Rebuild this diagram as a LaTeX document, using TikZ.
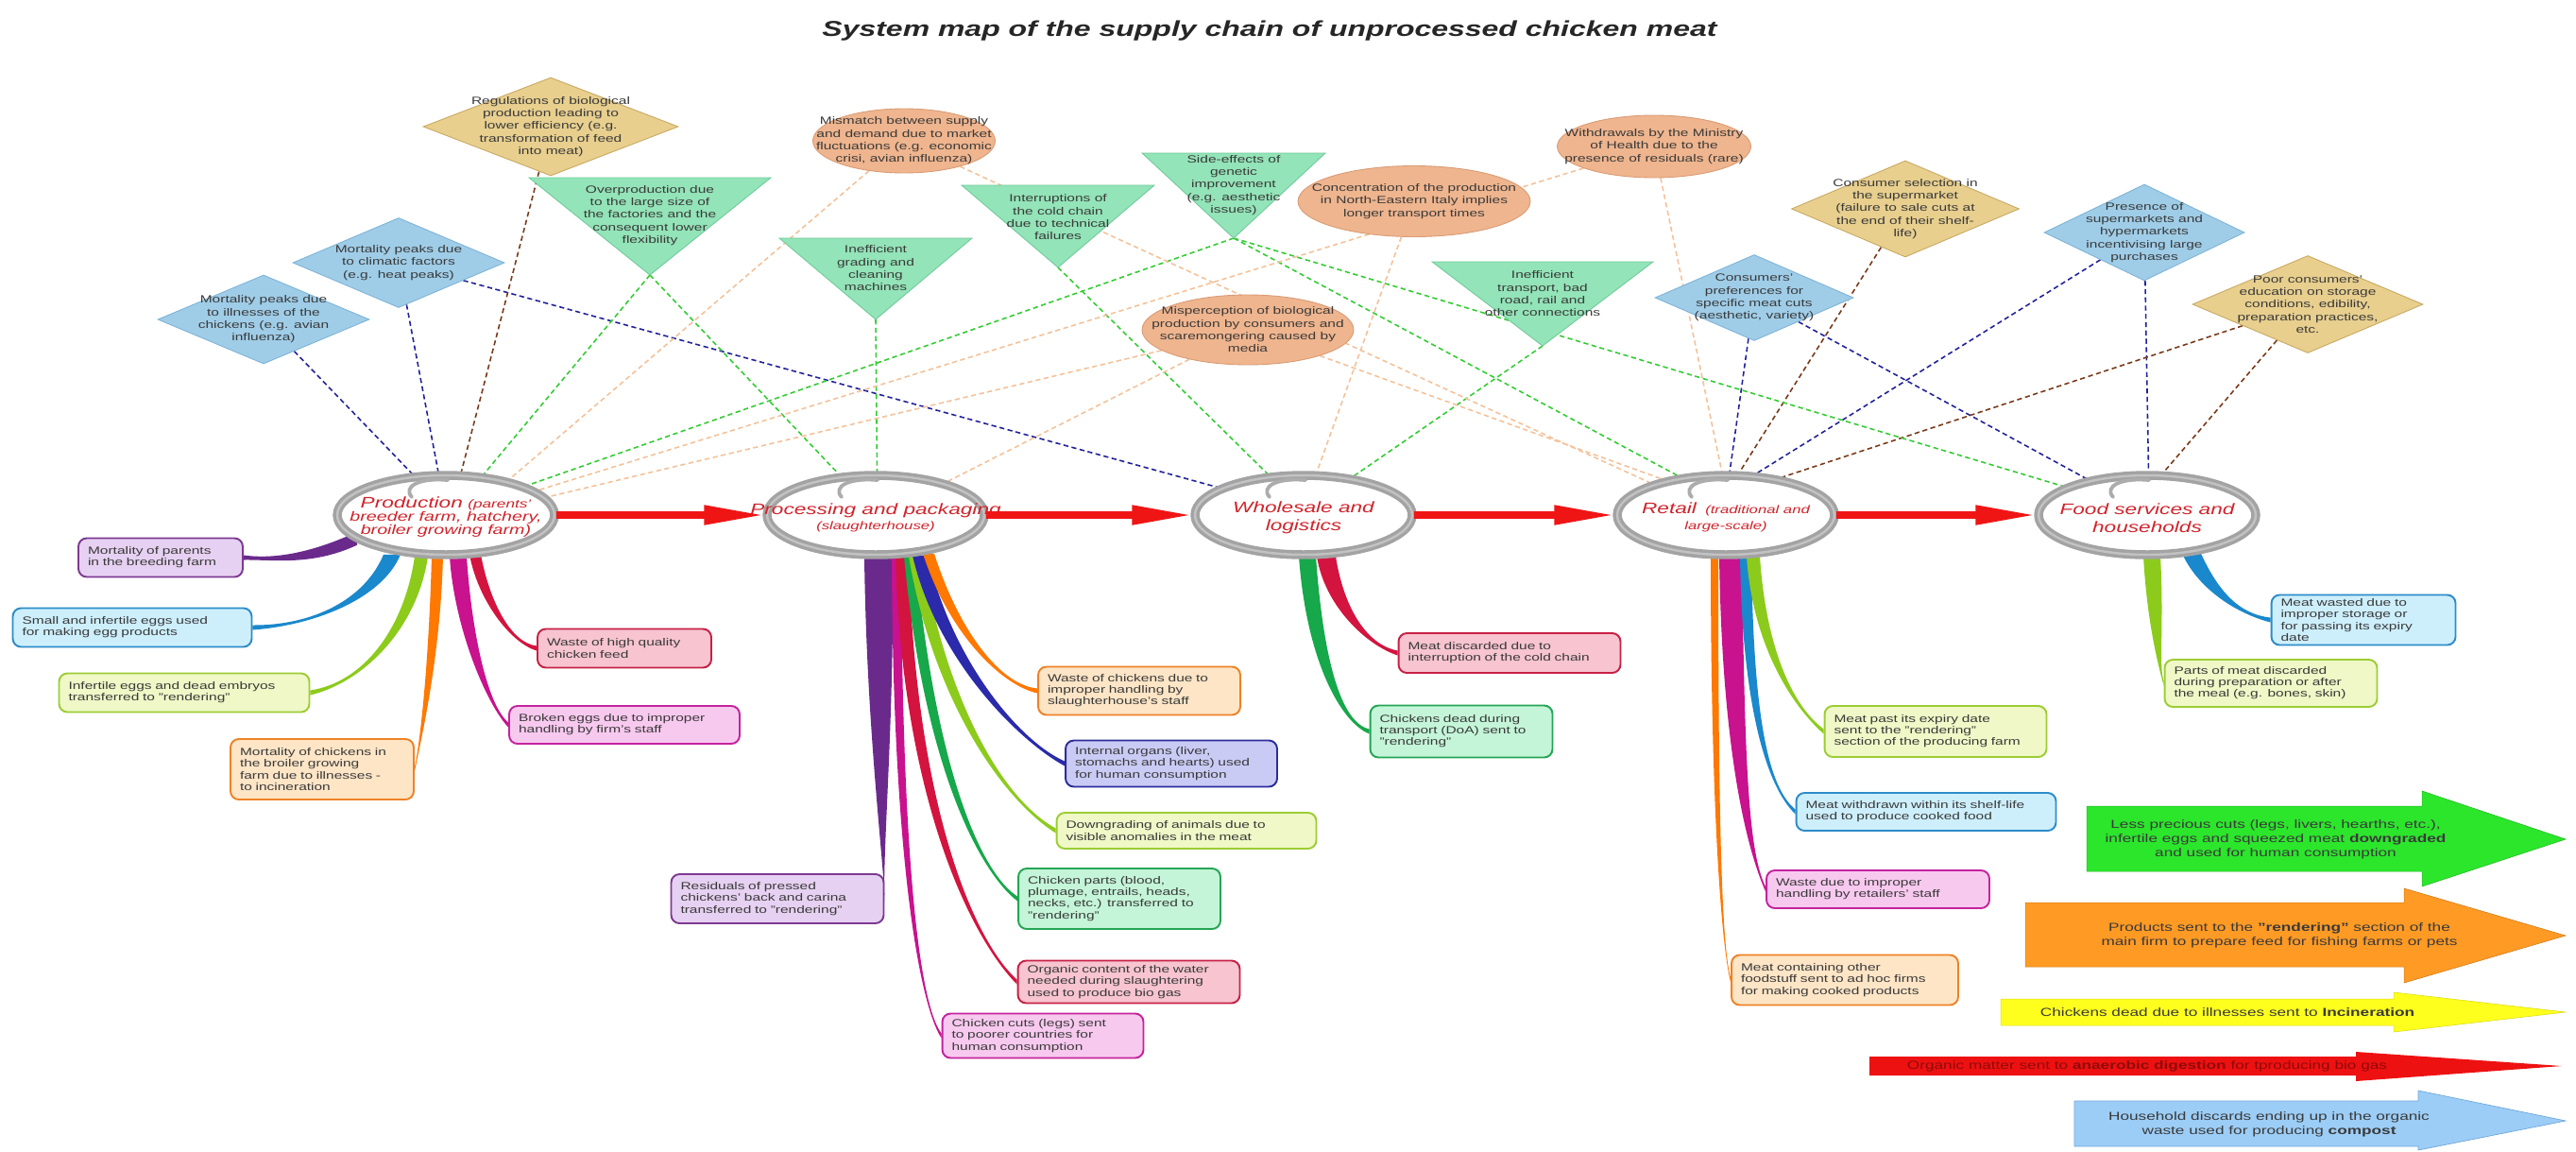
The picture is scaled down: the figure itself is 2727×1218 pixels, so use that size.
\documentclass[tikz,border=0pt]{standalone}
\usepackage{fontspec}
\setmainfont[FakeStretch=1.4]{Liberation Sans}
\usetikzlibrary{shapes.geometric,calc,arrows.meta}
\pgfdeclarelayer{background}
\pgfsetlayers{background,main}

% shapes on top
\definecolor{diaBlue}{HTML}{9FCDE8}
\definecolor{diaBlueD}{HTML}{7DB3D6}
\definecolor{diaTan}{HTML}{E8CF8E}
\definecolor{diaTanD}{HTML}{C8A860}
\definecolor{ellOrg}{HTML}{EFB58E}
\definecolor{ellOrgD}{HTML}{D99B74}
\definecolor{triGreen}{HTML}{93E4B8}
\definecolor{triGreenD}{HTML}{6FCB9A}
% dashed links
\definecolor{lnblue}{HTML}{22229A}
\definecolor{lnbrown}{HTML}{7A3A1A}
\definecolor{lngreen}{HTML}{33CC33}
\definecolor{lnpeach}{HTML}{F3C29A}
% chain
\definecolor{stageRed}{HTML}{D0242C}
\definecolor{flowRed}{HTML}{F01515}
\definecolor{txtgray}{HTML}{3A3A3A}
% loss boxes: fill, border, ribbon
\definecolor{purF}{HTML}{E7D1F2}\definecolor{purD}{HTML}{7D3A92}\definecolor{purR}{HTML}{6A2A8C}
\definecolor{cyaF}{HTML}{CDEFFC}\definecolor{cyaD}{HTML}{2D8CC8}\definecolor{cyaR}{HTML}{1A88CC}
\definecolor{limF}{HTML}{EFF8C6}\definecolor{limD}{HTML}{9CCD34}\definecolor{limR}{HTML}{8CCB1C}
\definecolor{oraF}{HTML}{FDE5C6}\definecolor{oraD}{HTML}{EE8226}\definecolor{oraR}{HTML}{FF7800}
\definecolor{magF}{HTML}{F8C9EF}\definecolor{magD}{HTML}{C4239E}\definecolor{magR}{HTML}{C8128E}
\definecolor{crmF}{HTML}{F7C4D0}\definecolor{crmD}{HTML}{C62045}\definecolor{crmR}{HTML}{D3143F}
\definecolor{indF}{HTML}{CACBF5}\definecolor{indD}{HTML}{2C2C9C}\definecolor{indR}{HTML}{2A2AAA}
\definecolor{grnF}{HTML}{C4F5D8}\definecolor{grnD}{HTML}{24A554}\definecolor{grnR}{HTML}{16A84A}
% legend
\definecolor{legGreen}{HTML}{2BE62B}
\definecolor{legOrange}{HTML}{FF9A24}
\definecolor{legYellow}{HTML}{FFFF1E}
\definecolor{legRed}{HTML}{EE1111}
\definecolor{legBlue}{HTML}{9CCDF6}
\definecolor{legBlueD}{HTML}{6FA8DB}

\tikzset{
  shapetext/.style={font=\fontsize{6.3}{7.6}\selectfont, text=txtgray, align=center, inner sep=0pt},
  bluedia/.style={diamond, draw=diaBlueD, fill=diaBlue, line width=0.5pt, inner sep=0pt},
  tandia/.style={diamond, draw=diaTanD, fill=diaTan, line width=0.5pt, inner sep=0pt},
  orgell/.style={ellipse, draw=ellOrgD, fill=ellOrg, line width=0.5pt, inner sep=0pt},
  gtri/.style={draw=triGreenD, fill=triGreen, line width=0.5pt},
  stage/.style={ellipse, fill=white, draw=gray!72, double=gray!48, double distance=1.4pt,
    line width=2pt, minimum width=4.6cm, minimum height=1.68cm, inner sep=0pt},
  stagetext/.style={font=\itshape, text=stageRed, align=center, inner sep=0pt},
  swirl/.style={draw=gray!65, line width=2.2pt, line cap=round},
  flow/.style={draw=flowRed, line width=4.5pt, -{Triangle[length=1.3cm,width=0.38cm]}},
  risk/.style={dash pattern=on 3pt off 2pt, line width=0.9pt},
  lossbox/.style={rectangle, rounded corners=5pt, line width=1.1pt, align=left,
    inner xsep=0.2cm, inner ysep=0pt, text=txtgray, font=\fontsize{6.3}{6.9}\selectfont},
  purbox/.style={lossbox, draw=purD, fill=purF},
  cyabox/.style={lossbox, draw=cyaD, fill=cyaF},
  limbox/.style={lossbox, draw=limD, fill=limF},
  orabox/.style={lossbox, draw=oraD, fill=oraF},
  magbox/.style={lossbox, draw=magD, fill=magF},
  crmbox/.style={lossbox, draw=crmD, fill=crmF},
  indbox/.style={lossbox, draw=indD, fill=indF},
  grnbox/.style={lossbox, draw=grnD, fill=grnF},
  legtext/.style={font=\fontsize{7}{8.6}\selectfont, align=center, inner sep=0pt, text=txtgray},
}

% tapered band: colour, half width, anchor, shift, control 1, control 2, end
\newcommand{\ribbon}[7]{%
  \fill[#1] ($(#3)+(#4)-(#2)$) .. controls ($(#5)-(#2)$) and (#6) .. ($(#7)+(0,-2.5)$)
    -- ($(#7)+(0,2.5)$) .. controls (#6) and ($(#5)+(#2)$) .. ($(#3)+(#4)+(#2)$) -- cycle;}

% downward triangle: apex name, apex, half width, height
\newcommand{\downtri}[4]{%
  \coordinate (#1) at (#2);
  \filldraw[gtri] ($(#1)+(-#3,-#4)$) -- ($(#1)+(#3,-#4)$) -- (#1) -- cycle;}

\begin{document}
\begin{tikzpicture}[x=0.02cm, y=-0.02cm]
\useasboundingbox (0,0) rectangle (2727,1218);
\begin{pgfonlayer}{background}
  \fill[white] (0,0) rectangle (2727,1218);
\end{pgfonlayer}

\node[font=\bfseries\itshape\fontsize{13}{15}\selectfont, text=black!85] (title) at (1344,33)
  {System map of the supply chain of unprocessed chicken meat};

% the chain
\node[stage] (prod) at (472,545) {};
\node[stage] (proc) at (927,545) {};
\node[stage] (whole) at (1380,545) {};
\node[stage] (retail) at (1827,545) {};
\node[stage] (food) at (2273,545) {};
\foreach \s in {prod,proc,whole,retail,food}
  \draw[swirl] ($(\s.center)+(2,-37)$) .. controls ($(\s.center)+(-28,-40)$) and ($(\s.center)+(-46,-30)$) .. ($(\s.center)+(-36,-19)$);

\node[stagetext, font=\itshape\fontsize{8}{8.2}\selectfont] (prod-t) at (472,547)
  {{\fontsize{9.2}{8.2}\selectfont Production} {\fontsize{7}{8.2}\selectfont (parents'}\\breeder farm, hatchery,\\broiler growing farm)};
\node[stagetext, font=\itshape\fontsize{6.8}{9}\selectfont] (proc-t) at (927,548)
  {{\fontsize{9.2}{9}\selectfont Processing and packaging}\\(slaughterhouse)};
\node[stagetext, font=\itshape\fontsize{9.2}{10.8}\selectfont] (whole-t) at (1380,548)
  {Wholesale and\\logistics};
\node[stagetext, font=\itshape\fontsize{6.8}{9.6}\selectfont] (retail-t) at (1827,547)
  {{\fontsize{9.2}{9.6}\selectfont Retail} \ (traditional and\\large-scale)};
\node[stagetext, font=\itshape\fontsize{9.2}{10.8}\selectfont] (food-t) at (2273,548)
  {Food services and\\households};

\foreach \a/\b in {prod/proc,proc/whole,whole/retail,retail/food}
  \draw[flow] (\a.east) -- (\b.west);

% causes above the chain
\node[bluedia, minimum width=4.48cm, minimum height=1.88cm] (illness) at (279,338) {};
\node[shapetext] (illness-t) at (illness) {Mortality peaks due\\to illnesses of the\\chickens (e.g. avian\\influenza)};
\node[bluedia, minimum width=4.48cm, minimum height=1.9cm] (climate) at (422,278) {};
\node[shapetext] (climate-t) at (climate) {Mortality peaks due\\to climatic factors\\(e.g. heat peaks)};
\node[tandia, minimum width=5.4cm, minimum height=2.08cm] (regul) at (583,134) {};
\node[shapetext] (regul-t) at (regul) {Regulations of biological\\production leading to\\lower efficiency (e.g.\\transformation of feed\\into meat)};
\node[tandia, minimum width=4.82cm, minimum height=2.04cm] (csel) at (2017,221) {};
\node[shapetext] (csel-t) at (csel) {Consumer selection in\\the supermarket\\(failure to sale cuts at\\the end of their shelf-\\life)};
\node[bluedia, minimum width=4.2cm, minimum height=1.82cm] (cpref) at (1857,315) {};
\node[shapetext] (cpref-t) at (cpref) {Consumers'\\preferences for\\specific meat cuts\\(aesthetic, variety)};
\node[bluedia, minimum width=4.24cm, minimum height=2.04cm] (superm) at (2270,246) {};
\node[shapetext] (superm-t) at (superm) {Presence of\\supermarkets and\\hypermarkets\\incentivising large\\purchases};
\node[tandia, minimum width=4.88cm, minimum height=2.06cm] (educ) at (2443,322) {};
\node[shapetext] (educ-t) at (educ) {Poor consumers'\\education on storage\\conditions, edibility,\\preparation practices,\\etc.};

\node[orgell, minimum width=3.86cm, minimum height=1.36cm] (mismatch) at (957,149) {};
\node[shapetext] (mismatch-t) at (mismatch) {Mismatch between supply\\and demand due to market\\fluctuations (e.g. economic\\crisi, avian influenza)};
\node[orgell, minimum width=4.1cm, minimum height=1.32cm] (withdr) at (1751,155) {};
\node[shapetext] (withdr-t) at (withdr) {Withdrawals by the Ministry\\of Health due to the\\presence of residuals (rare)};
\node[orgell, minimum width=4.92cm, minimum height=1.5cm] (concent) at (1497,213) {};
\node[shapetext] (concent-t) at (concent) {Concentration of the production\\in North-Eastern Italy implies\\longer transport times};
\node[orgell, minimum width=4.48cm, minimum height=1.48cm] (misperc) at (1321,349) {};
\node[shapetext] (misperc-t) at (misperc) {Misperception of biological\\production by consumers and\\scaremongering caused by\\media};

\downtri{overprod}{688,291}{128}{103}
\node[shapetext] (overprod-t) at (688,228) {Overproduction due\\to the large size of\\the factories and the\\consequent lower\\flexibility};
\downtri{grading}{927,338}{102}{86}
\node[shapetext] (grading-t) at (927,284) {Inefficient\\grading and\\cleaning\\machines};
\downtri{coldch}{1120,283}{102}{87}
\node[shapetext] (coldch-t) at (1120,230) {Interruptions of\\the cold chain\\due to technical\\failures};
\downtri{genetic}{1306,252}{97}{90}
\node[shapetext] (genetic-t) at (1306,196) {Side-effects of\\genetic\\improvement\\(e.g. aesthetic\\issues)};
\downtri{transp}{1633,366}{117}{89}
\node[shapetext] (transp-t) at (1633,311) {Inefficient\\transport, bad\\road, rail and\\other connections};

% losses below the chain
\node[purbox, minimum width=3.48cm, minimum height=0.82cm, text width=3.08cm] (p1) at (170,590) {Mortality of parents\\in the breeding farm};
\node[cyabox, minimum width=5.06cm, minimum height=0.82cm, text width=4.66cm] (p2) at (140,664) {Small and infertile eggs used\\for making egg products};
\node[limbox, minimum width=5.3cm, minimum height=0.82cm, text width=4.9cm] (p3) at (195,733) {Infertile eggs and dead embryos\\transferred to "rendering"};
\node[orabox, minimum width=3.88cm, minimum height=1.28cm, text width=3.48cm] (p4) at (341,814) {Mortality of chickens in\\the broiler growing\\farm due to illnesses -\\to incineration};
\node[magbox, minimum width=4.88cm, minimum height=0.8cm, text width=4.48cm] (p5) at (661,767) {Broken eggs due to improper\\handling by firm's staff};
\node[crmbox, minimum width=3.68cm, minimum height=0.82cm, text width=3.28cm] (p6) at (661,686) {Waste of high quality\\chicken feed};

\node[orabox, minimum width=4.28cm, minimum height=1.02cm, text width=3.88cm] (q1) at (1206,731) {Waste of chickens due to\\improper handling by\\slaughterhouse's staff};
\node[indbox, minimum width=4.48cm, minimum height=0.98cm, text width=4.08cm] (q2) at (1240,808) {Internal organs (liver,\\stomachs and hearts) used\\for human consumption};
\node[limbox, minimum width=5.5cm, minimum height=0.76cm, text width=5.1cm] (q3) at (1256,879) {Downgrading of animals due to\\visible anomalies in the meat};
\node[grnbox, minimum width=4.28cm, minimum height=1.28cm, text width=3.88cm] (q4) at (1185,951) {Chicken parts (blood,\\plumage, entrails, heads,\\necks, etc.) transferred to\\"rendering"};
\node[crmbox, minimum width=4.7cm, minimum height=0.9cm, text width=4.3cm] (q5) at (1195,1039) {Organic content of the water\\needed during slaughtering\\used to produce bio gas};
\node[magbox, minimum width=4.26cm, minimum height=0.94cm, text width=3.86cm] (q6) at (1104,1096) {Chicken cuts (legs) sent\\to poorer countries for\\human consumption};
\node[purbox, minimum width=4.5cm, minimum height=1.04cm, text width=4.1cm] (q7) at (823,951) {Residuals of pressed\\chickens' back and carina\\transferred to "rendering"};

\node[crmbox, minimum width=4.7cm, minimum height=0.84cm, text width=4.3cm] (w1) at (1598,691) {Meat discarded due to\\interruption of the cold chain};
\node[grnbox, minimum width=3.86cm, minimum height=1.1cm, text width=3.46cm] (w2) at (1547,774) {Chickens dead during\\transport (DoA) sent to\\"rendering"};

\node[limbox, minimum width=4.7cm, minimum height=1.08cm, text width=4.3cm] (r1) at (2049,774) {Meat past its expiry date\\sent to the "rendering"\\section of the producing farm};
\node[cyabox, minimum width=5.5cm, minimum height=0.8cm, text width=5.1cm] (r2) at (2039,859) {Meat withdrawn within its shelf-life\\used to produce cooked food};
\node[magbox, minimum width=4.72cm, minimum height=0.8cm, text width=4.32cm] (r3) at (1988,941) {Waste due to improper\\handling by retailers' staff};
\node[orabox, minimum width=4.8cm, minimum height=1.06cm, text width=4.4cm] (r4) at (1953,1037) {Meat containing other\\foodstuff sent to ad hoc firms\\for making cooked products};

\node[cyabox, minimum width=3.9cm, minimum height=1.06cm, text width=3.5cm] (f1) at (2502,656) {Meat wasted due to\\improper storage or\\for passing its expiry\\date};
\node[limbox, minimum width=4.5cm, minimum height=1.0cm, text width=4.1cm] (f2) at (2404,723) {Parts of meat discarded\\during preparation or after\\the meal (e.g. bones, skin)};

\begin{pgfonlayer}{background}
  % dashed links from the causes
  \foreach \a/\b in {illness/prod.129, climate/prod.100, climate/whole.162, cpref/retail.85,
                     cpref/food.149, superm/retail.55, superm/food.88}
    \draw[risk, lnblue] (\a) -- (\b);
  \foreach \a/\b in {regul/prod.70, csel/retail.73, educ/retail.35, educ/food.70}
    \draw[risk, lnbrown] (\a) -- (\b);
  \foreach \a/\b in {overprod/prod.47, overprod/proc.132, grading/proc.88, coldch/whole.131,
                     genetic/prod.20, genetic/retail.140, genetic/food.161, transp/whole.38}
    \draw[risk, lngreen] (\a) -- (\b);
  \foreach \a/\b in {mismatch/prod.29, mismatch/retail.157, withdr/prod.15, withdr/retail.95,
                     concent/whole.73, misperc/proc.25, misperc/prod.10, misperc/retail.150}
    \draw[risk, lnpeach] (\a) -- (\b);

  % bands from each stage to its losses
  \ribbon{purR}{0,7}{prod.south}{-94,-19}{330,592}{290,592}{p1.east}
  \ribbon{cyaR}{9,0}{prod.south}{-57,-2}{395,635}{330,662}{p2.east}
  \ribbon{limR}{7,0}{prod.south}{-26,0}{435,665}{385,722}{p3.east}
  \ribbon{oraR}{6,0}{prod.south}{-9,0}{460,700}{445,785}{p4.east}
  \ribbon{magR}{-9,0}{prod.south}{13,0}{490,665}{515,745}{p5.west}
  \ribbon{crmR}{-6,0}{prod.south}{31,-2}{512,635}{540,680}{p6.west}

  \ribbon{purR}{15,0}{proc.south}{3,0}{932,760}{934,900}{q7.east}
  \ribbon{magR}{-5,0}{proc.south}{22,0}{950,900}{972,1060}{q6.west}
  \ribbon{crmR}{-7,0}{proc.south}{28,0}{962,850}{1030,995}{q5.west}
  \ribbon{grnR}{-6,0}{proc.south}{36,0}{985,820}{1040,925}{q4.west}
  \ribbon{limR}{-7,0}{proc.south}{42,0}{995,740}{1060,845}{q3.west}
  \ribbon{indR}{-8,0}{proc.south}{47,-1}{1000,700}{1080,785}{q2.west}
  \ribbon{oraR}{-6,0}{proc.south}{56,-3}{1010,670}{1060,725}{q1.west}

  \ribbon{grnR}{-9,0}{whole.south}{4,0}{1392,700}{1420,765}{w2.west}
  \ribbon{crmR}{-10,0}{whole.south}{24,0}{1412,640}{1445,682}{w1.west}

  \ribbon{oraR}{-4,0}{retail.south}{-12,0}{1815,850}{1822,1000}{r4.west}
  \ribbon{magR}{-12,0}{retail.south}{5,0}{1835,800}{1850,900}{r3.west}
  \ribbon{cyaR}{-6,0}{retail.south}{21,0}{1850,740}{1868,830}{r2.west}
  \ribbon{limR}{-7,0}{retail.south}{29,0}{1862,680}{1895,745}{r1.west}

  \ribbon{limR}{-9,0}{food.south}{5,0}{2282,660}{2285,705}{f2.west}
  \ribbon{cyaR}{-10,0}{food.south}{47,-3}{2338,625}{2370,650}{f1.west}
\end{pgfonlayer}

% legend
\filldraw[draw=legGreen!80!black, line width=0.3pt, fill=legGreen] (2209,853) -- (2564,853) -- (2564,837) -- (2716,888) -- (2564,938) -- (2564,922) -- (2209,922) -- cycle;
\node[legtext] (leg-down) at (2409,888) {Less precious cuts (legs, livers, hearths, etc.),\\infertile eggs and squeezed meat \textbf{downgraded}\\and used for human consumption};
\filldraw[draw=legOrange!80!black, line width=0.3pt, fill=legOrange] (2144,955) -- (2545,955) -- (2545,940) -- (2716,990) -- (2545,1040) -- (2545,1023) -- (2144,1023) -- cycle;
\node[legtext] (leg-rend) at (2413,990) {Products sent to the \textbf{"rendering"} section of the\\main firm to prepare feed for fishing farms or pets};
\filldraw[draw=legYellow!85!black, line width=0.3pt, fill=legYellow] (2118,1057) -- (2534,1057) -- (2534,1050) -- (2716,1071) -- (2534,1092) -- (2534,1085) -- (2118,1085) -- cycle;
\node[legtext] (leg-incin) at (2358,1071) {Chickens dead due to illnesses sent to \textbf{Incineration}};
\fill[legRed] (1979,1118) -- (2494,1118) -- (2494,1113) -- (2712,1128) -- (2494,1144) -- (2494,1138) -- (1979,1138) -- cycle;
\node[legtext, text=legRed!60!black] (leg-biogas) at (2273,1128) {Organic matter sent to \textbf{anaerobic digestion} for tproducing bio gas};
\filldraw[draw=legBlueD, line width=0.4pt, fill=legBlue] (2196,1165) -- (2560,1165) -- (2560,1154) -- (2716,1186) -- (2560,1217) -- (2560,1213) -- (2196,1213) -- cycle;
\node[legtext] (leg-compost) at (2402,1190) {Household discards ending up in the organic\\waste used for producing \textbf{compost}};
\end{tikzpicture}
\end{document}
